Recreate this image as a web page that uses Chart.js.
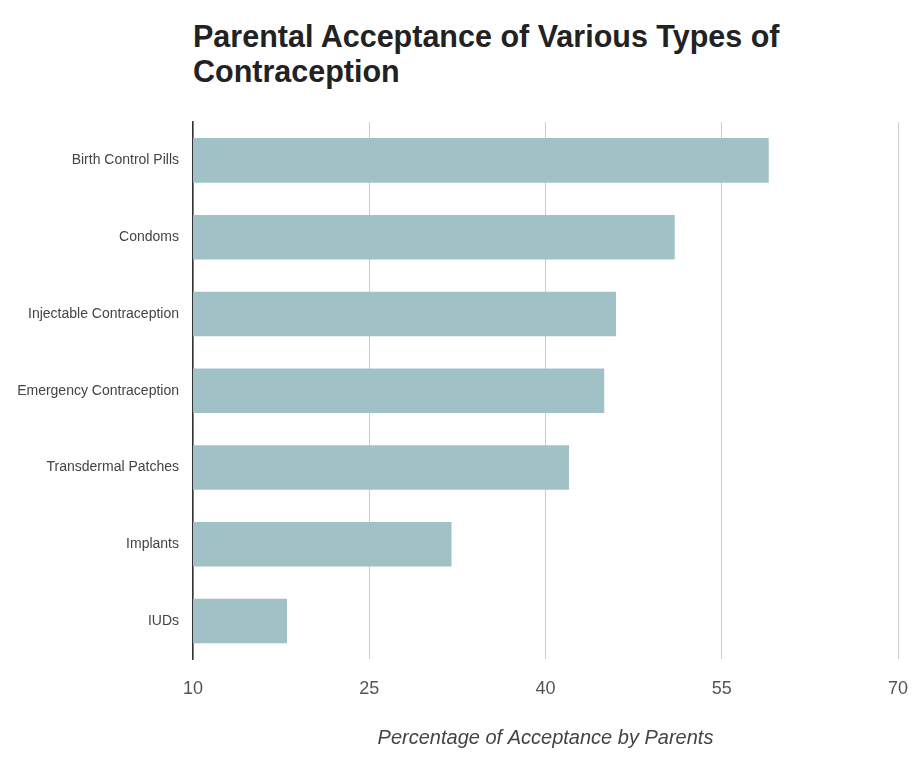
<!DOCTYPE html>
<html>
<head>
<meta charset="utf-8">
<script src="https://cdn.jsdelivr.net/npm/chart.js@4/dist/chart.umd.min.js"></script>
<style>
  html, body { margin: 0; padding: 0; background: #fff; }
  #wrap { position: relative; width: 912px; height: 777px; }
  #title {
    position: absolute; left: 193px; top: 19px; margin: 0;
    font-family: "Liberation Sans", Arial, sans-serif; font-weight: bold;
    font-size: 30.5px; line-height: 35px; color: #222;
  }
  canvas { position: absolute; left: 0; top: 0; }
</style>
</head>
<body>
<div id="wrap">
  <h1 id="title">Parental Acceptance of Various Types of<br>Contraception</h1>
  <canvas id="chart" width="912" height="777"></canvas>
</div>
<script>
const categories = [
  "Birth Control Pills",
  "Condoms",
  "Injectable Contraception",
  "Emergency Contraception",
  "Transdermal Patches",
  "Implants",
  "IUDs"
];
const acceptance = [59, 51, 46, 45, 42, 32, 18];
const xTicks = [10, 25, 40, 55, 70];

const ctx = document.getElementById("chart").getContext("2d");

new Chart(ctx, {
  type: "bar",
  data: {
    labels: categories,
    datasets: [
      {
        label: "Acceptance",
        data: acceptance,
        backgroundColor: "#a0c2c6",
        borderWidth: 0,
        categoryPercentage: 1,
        barPercentage: 0.58
      }
    ]
  },
  options: {
    indexAxis: "y",
    responsive: false,
    animation: false,
    layout: {
      padding: { top: 122, right: 14, bottom: 17, left: 0 }
    },
    plugins: {
      legend: { display: false },
      tooltip: { enabled: false }
    },
    scales: {
      x: {
        min: 10,
        max: 70,
        afterBuildTicks: (scale) => {
          scale.ticks = xTicks.map((v) => ({ value: v }));
        },
        afterFit: (scale) => {
          // let the last tick label run to the edge like the original
          scale.paddingRight = 0;
        },
        grid: {
          color: "#cccccc",
          drawTicks: false
        },
        border: { display: false },
        ticks: {
          padding: 19,
          color: "#555",
          font: { family: "Liberation Sans, Arial, sans-serif", size: 18 }
        },
        title: {
          display: true,
          text: "Percentage of Acceptance by Parents",
          color: "#444",
          padding: { top: 7, bottom: 10 },
          font: { family: "Liberation Sans, Arial, sans-serif", size: 20, style: "italic" }
        }
      },
      y: {
        grid: { display: false, drawTicks: false },
        border: { display: true, color: "#333", width: 1.5 },
        afterFit: (scale) => {
          scale.width = 193;
        },
        ticks: {
          padding: 14,
          color: "#444",
          font: { family: "Liberation Sans, Arial, sans-serif", size: 14 }
        }
      }
    }
  }
});
</script>
</body>
</html>
